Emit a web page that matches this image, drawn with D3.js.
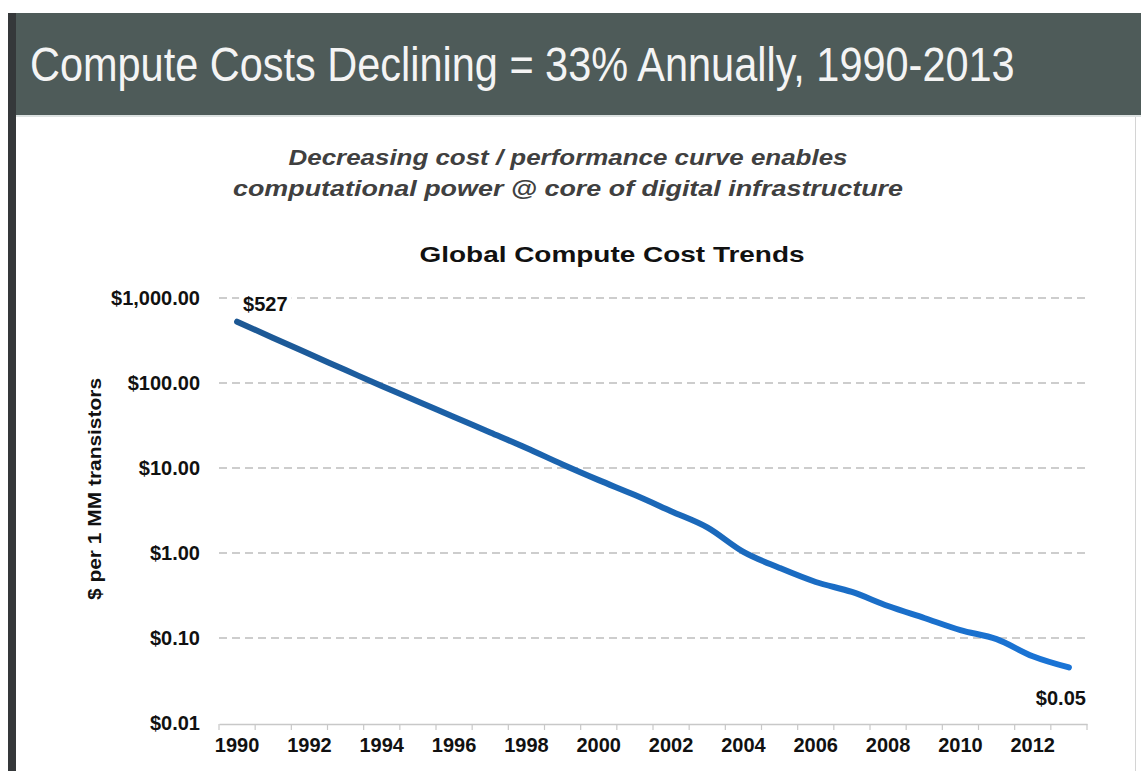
<!DOCTYPE html>
<html>
<head>
<meta charset="utf-8">
<script src="https://cdn.jsdelivr.net/npm/d3@7"></script>
<style>
  html, body { margin: 0; padding: 0; background: #ffffff; }
  svg { display: block; font-family: "Liberation Sans", Arial, Helvetica, sans-serif; }
</style>
</head>
<body>
<svg id="chart" width="1141" height="771"></svg>
<script>
// ---- data ----
const years = [1990,1991,1992,1993,1994,1995,1996,1997,1998,1999,2000,2001,
               2002,2003,2004,2005,2006,2007,2008,2009,2010,2011,2012,2013];
const costs = [527,338,219,142,92,60.6,39.8,26.2,17.2,11.0,7.2,4.8,
               3.1,2.0,1.03,0.667,0.456,0.348,0.238,0.172,0.124,0.097,0.061,0.045];
const yTicks = [0.01,0.1,1,10,100,1000];
const xLabelYears = [1990,1992,1994,1996,1998,2000,2002,2004,2006,2008,2010,2012];
const headline = "Compute Costs Declining = 33% Annually, 1990-2013";
const subtitleLines = ["Decreasing cost / performance curve enables",
                       "computational power @ core of digital infrastructure"];
const chartTitle = "Global Compute Cost Trends";
const yAxisTitle = "$ per 1 MM transistors";
const firstLabel = "$527";
const lastLabel = "$0.05";

const svg = d3.select("#chart");

// ---- slide frame ----
svg.append("rect").attr("x",0).attr("y",0).attr("width",1141).attr("height",771).attr("fill","#ffffff");
svg.append("rect").attr("x",8).attr("y",13).attr("width",1133).attr("height",102).attr("fill","#4e5b59");
svg.append("rect").attr("x",8).attr("y",115).attr("width",1133).attr("height",2).attr("fill","#dde2e2");
svg.append("rect").attr("x",8).attr("y",13).attr("width",8).attr("height",758).attr("fill","#35383a");
svg.append("rect").attr("x",1135).attr("y",117).attr("width",1).attr("height",654).attr("fill","#d4d4d4");

// headline: condensed horizontally by a scale transform to the reference width
const hg = svg.append("g");
const ht = hg.append("text")
  .attr("x",0).attr("y",0)
  .attr("fill","#f4f4f4")
  .attr("font-size",48)
  .text(headline);
const natW = ht.node().getComputedTextLength();
hg.attr("transform",`translate(30,81) scale(${985/natW},1)`);

const subW = [559, 670];
subtitleLines.forEach((t,i) => {
  svg.append("text")
    .attr("x",568).attr("y",165 + i*31)
    .attr("text-anchor","middle")
    .attr("fill","#404040")
    .attr("font-size",22).attr("font-weight","bold").attr("font-style","italic")
    .attr("textLength",subW[i]).attr("lengthAdjust","spacingAndGlyphs")
    .text(t);
});

svg.append("text")
  .attr("x",612).attr("y",262)
  .attr("text-anchor","middle")
  .attr("fill","#111")
  .attr("font-size",22).attr("font-weight","bold")
  .attr("textLength",385).attr("lengthAdjust","spacingAndGlyphs")
  .text(chartTitle);

// ---- scales ----
const x = d3.scaleBand().domain(years).range([219,1087]).padding(0);
const xc = d => x(d) + x.bandwidth()/2;
const y = d3.scaleLog().domain([0.01,1000]).range([723,298]);

// ---- gridlines ----
svg.append("g").selectAll("line")
  .data(yTicks.filter(v => v > 0.01))
  .join("line")
  .attr("x1",219).attr("x2",1087)
  .attr("y1",d => y(d)).attr("y2",d => y(d))
  .attr("stroke","#bdbdbd").attr("stroke-width",1.3)
  .attr("stroke-dasharray","8,5");

// ---- y axis labels ----
const yAxis = d3.axisLeft(y).tickValues(yTicks).tickFormat(d3.format("$,.2f"))
  .tickSize(0).tickPadding(19);
const gy = svg.append("g").attr("transform","translate(219,0)").call(yAxis);
gy.select(".domain").remove();
gy.selectAll("text").attr("font-size",20).attr("font-weight","bold").attr("fill","#111")
  .attr("font-family","Liberation Sans, Arial, sans-serif");

// ---- x axis ----
const xAxis = d3.axisBottom(x).tickValues(xLabelYears).tickSize(0).tickPadding(14).tickSizeOuter(0);
const gx = svg.append("g").attr("transform","translate(0,724)").call(xAxis);
gx.select(".domain").attr("stroke","#c8c8c8").attr("stroke-width",1.5);
gx.selectAll("text").attr("font-size",20).attr("font-weight","bold").attr("fill","#111")
  .attr("font-family","Liberation Sans, Arial, sans-serif");
// boundary ticks
const bounds = years.map(d => x(d)).concat([x(years[years.length-1]) + x.bandwidth()]);
svg.append("g").selectAll("line").data(bounds).join("line")
  .attr("x1",d=>d).attr("x2",d=>d).attr("y1",724).attr("y2",730)
  .attr("stroke","#c8c8c8").attr("stroke-width",1.2);

// ---- y axis title ----
svg.append("text")
  .attr("transform","translate(101,489) rotate(-90)")
  .attr("text-anchor","middle")
  .attr("fill","#111")
  .attr("font-size",18).attr("font-weight","bold")
  .attr("textLength",222).attr("lengthAdjust","spacingAndGlyphs")
  .text(yAxisTitle);

// ---- line ----
const defs = svg.append("defs");
const grad = defs.append("linearGradient").attr("id","lg")
  .attr("gradientUnits","userSpaceOnUse")
  .attr("x1",xc(years[0])).attr("x2",xc(years[years.length-1])).attr("y1",0).attr("y2",0);
grad.append("stop").attr("offset","0%").attr("stop-color","#1d5894");
grad.append("stop").attr("offset","45%").attr("stop-color","#1b66b4");
grad.append("stop").attr("offset","100%").attr("stop-color","#1a74d6");

const data = years.map((yr,i) => ({yr, v: costs[i]}));
const line = d3.line().x(d => xc(d.yr)).y(d => y(d.v)).curve(d3.curveMonotoneX);
svg.append("path").datum(data)
  .attr("d",line)
  .attr("fill","none")
  .attr("stroke","url(#lg)")
  .attr("stroke-width",6)
  .attr("stroke-linecap","round")
  .attr("stroke-linejoin","round");

// ---- data labels ----
const f = data[0];
const bgRect = svg.append("rect").attr("fill","#ffffff");
const l1 = svg.append("text")
  .attr("x",xc(f.yr)+6).attr("y",y(1000)+13)
  .attr("font-size",20).attr("font-weight","bold").attr("fill","#111")
  .text(firstLabel);
const bb = l1.node().getBBox();
bgRect.attr("x",bb.x-4).attr("y",y(1000)-3).attr("width",bb.width+8).attr("height",6);

const l = data[data.length-1];
svg.append("text")
  .attr("x",xc(l.yr)+17).attr("y",y(l.v)+38)
  .attr("text-anchor","end")
  .attr("font-size",20).attr("font-weight","bold").attr("fill","#111")
  .text(lastLabel);
</script>
</body>
</html>
